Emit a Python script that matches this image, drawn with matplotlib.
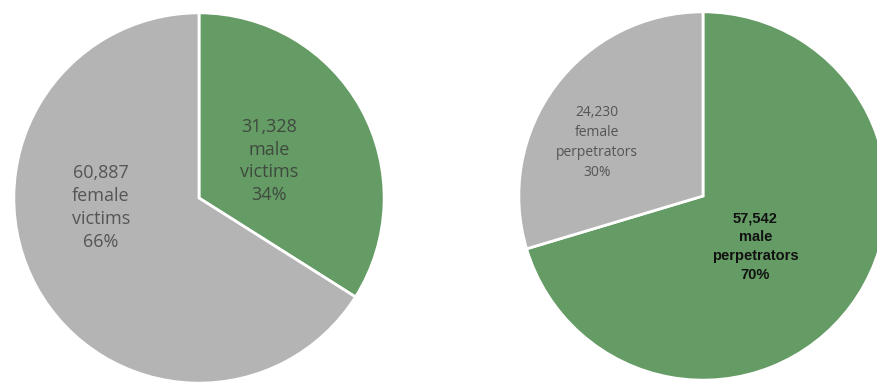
import matplotlib.pyplot as plt

# ============================================================
# DATOS
# ============================================================

victimas_valores = [31328, 60887]
victimas_etiquetas = ["male\nvictims", "female\nvictims"]

agresores_valores = [57542, 24230]
agresores_etiquetas = ["male\nperpetrators", "female\nperpetrators"]

colores = ["#659b64", "#b4b4b4"]


def etiqueta(valor, texto, total):
    return f"{valor:,}\n{texto}\n{round(valor / total * 100)}%"


fig = plt.figure(figsize=(8.78, 3.86), dpi=100)

# ============================================================
# VÍCTIMAS
# ============================================================

ax1 = fig.add_axes([12 / 878, 1 / 386, 374 / 878, 374 / 386])
ax1.pie(
    victimas_valores,
    colors=colores,
    startangle=90,
    counterclock=False,
    wedgeprops=dict(edgecolor="white", linewidth=2)
)
ax1.set_xlim(-1.01, 1.01)
ax1.set_ylim(-1.01, 1.01)
ax1.set_aspect("equal")

total_v = sum(victimas_valores)
ax1.text(0.38, 0.2, etiqueta(victimas_valores[0], victimas_etiquetas[0], total_v),
         ha="center", va="center", fontsize=13, color="#3f4a3f",
         family="Open Sans", linespacing=1.35)
ax1.text(-0.53, -0.05, etiqueta(victimas_valores[1], victimas_etiquetas[1], total_v),
         ha="center", va="center", fontsize=13, color="#555555",
         family="Open Sans", linespacing=1.35)

# ============================================================
# AGRESORES
# ============================================================

ax2 = fig.add_axes([517 / 878, 4 / 386, 372 / 878, 372 / 386])
ax2.pie(
    agresores_valores,
    colors=colores,
    startangle=90,
    counterclock=False,
    wedgeprops=dict(edgecolor="white", linewidth=2)
)
ax2.set_xlim(-1.01, 1.01)
ax2.set_ylim(-1.01, 1.01)
ax2.set_aspect("equal")

total_a = sum(agresores_valores)
ax2.text(0.285, -0.275, etiqueta(agresores_valores[0], agresores_etiquetas[0], total_a),
         ha="center", va="center", fontsize=10.5, color="#111111",
         family="Liberation Sans", fontweight="bold", linespacing=1.45)
ax2.text(-0.575, 0.29, etiqueta(agresores_valores[1], agresores_etiquetas[1], total_a),
         ha="center", va="center", fontsize=10, color="#555555",
         family="Open Sans", linespacing=1.45)

fig.savefig("out.png", dpi=100)
